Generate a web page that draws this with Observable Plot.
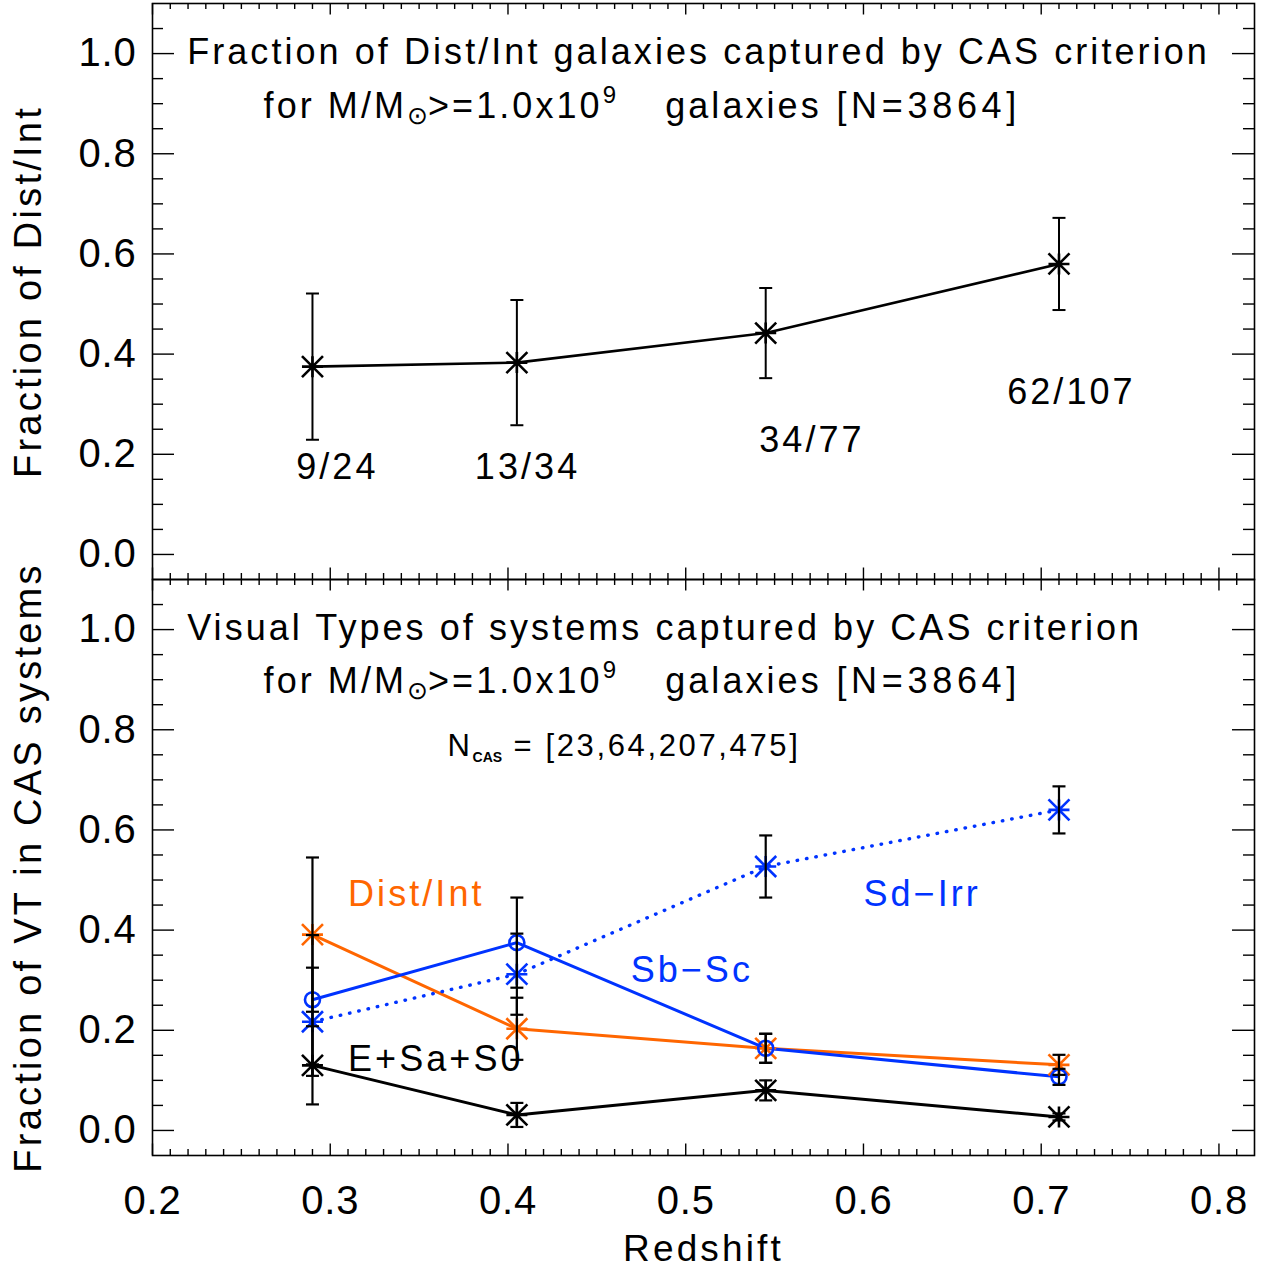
<!DOCTYPE html>
<html>
<head>
<meta charset="utf-8">
<script src="https://cdn.jsdelivr.net/npm/d3@7"></script>
<script src="https://cdn.jsdelivr.net/npm/@observablehq/plot@0.6"></script>
<style>
  html, body { margin: 0; padding: 0; background: #fff; }
  #chart svg { display: block; overflow: visible; }
  #chart text { letter-spacing: 0.085em; }
  #chart g[aria-label$="tick label"] text { letter-spacing: 0.02em; }
</style>
</head>
<body>
<div id="chart"></div>
<script>
// ---------------- data ----------------
const redshift = [0.29, 0.405, 0.545, 0.71];

// top panel: fraction of Dist/Int galaxies captured by CAS
const distIntCaptured = [9, 13, 34, 62];
const distIntTotal = [24, 34, 77, 107];
const distIntFrac = [0.375, 0.383, 0.442, 0.580];
const distIntErr = [0.146, 0.125, 0.090, 0.092];

// bottom panel: visual types of CAS-selected systems
const nCAS = [23, 64, 207, 475];
const typeNames = ["E+Sa+S0", "Dist/Int", "Sb-Sc", "Sd-Irr"];
const fracESaS0 = [0.130, 0.031, 0.080, 0.027];
const errESaS0 = [0.078, 0.024, 0.020, 0.007];
const fracDistInt = [0.391, 0.203, 0.164, 0.131];
const errDistInt = [0.154, 0.062, 0.029, 0.020];
const fracSbSc = [0.261, 0.375, 0.164, 0.107];
const errSbSc = [0.129, 0.090, 0.029, 0.016];
const fracSdIrr = [0.217, 0.312, 0.527, 0.640];
const errSdIrr = [0.108, 0.081, 0.062, 0.047];

const massCut = "1.0x10⁹";
const nTotal = 3864;

// ---------------- layout / style ----------------
const FONT = "'Liberation Sans', Arial, sans-serif";
const ORANGE = "#ff6600";
const BLUE = "#0033ff";
const W = 1266, ML = 152, MR = 12;
const PW = W - ML - MR;   // plot width
const PH = 576;           // plot height
const xDomain = [0.2, 0.82];
const yDomain = [-0.05, 1.1];
const majorX = d3.range(2, 9).map(d => d / 10);
const minorX = d3.range(21, 82).filter(d => d % 10).map(d => d / 100);
const majorY = d3.range(0, 6).map(d => d / 5);
const minorY = d3.range(1, 22).filter(d => d % 4).map(d => d / 20);

// 8-ray asterisk (IDL psym=2 style)
const asterisk = {
  draw(ctx, size) {
    const r = Math.sqrt(size / Math.PI);
    ctx.moveTo(-r, 0); ctx.lineTo(r, 0);
    ctx.moveTo(0, -r); ctx.lineTo(0, r);
    ctx.moveTo(-r, -r); ctx.lineTo(r, r);
    ctx.moveTo(-r, r); ctx.lineTo(r, -r);
  }
};
// horizontal error-bar cap
const hcap = {
  draw(ctx, size) {
    const r = Math.sqrt(size / Math.PI);
    ctx.moveTo(-r, 0); ctx.lineTo(r, 0);
  }
};

function frameMarks() {
  const s = {stroke: "black", strokeWidth: 1.4};
  return [
    Plot.tickX(majorX, {...s, x: d => d, insetTop: PH - 11.5}),
    Plot.tickX(majorX, {...s, x: d => d, insetBottom: PH - 11.5}),
    Plot.tickX(minorX, {...s, x: d => d, insetTop: PH - 6}),
    Plot.tickX(minorX, {...s, x: d => d, insetBottom: PH - 6}),
    Plot.tickY(majorY, {...s, y: d => d, insetRight: PW - 22}),
    Plot.tickY(majorY, {...s, y: d => d, insetLeft: PW - 22}),
    Plot.tickY(minorY, {...s, y: d => d, insetRight: PW - 11}),
    Plot.tickY(minorY, {...s, y: d => d, insetLeft: PW - 11}),
    Plot.axisY(majorY, {anchor: "left", tickSize: 0, tickPadding: 16, fontSize: 40,
      tickFormat: d3.format(".1f"), label: null}),
    Plot.frame({stroke: "black", strokeWidth: 1.6})
  ];
}

function errorMarks(rows, opts = {}) {
  const s = {stroke: "black", strokeWidth: opts.strokeWidth || 2.2};
  return [
    Plot.ruleX(rows, {...s, x: "z", y1: d => d.f - d.e, y2: d => d.f + d.e}),
    Plot.dot(rows, {...s, x: "z", y: d => d.f + d.e, symbol: hcap, r: 6.5, fill: "none"}),
    Plot.dot(rows, {...s, x: "z", y: d => d.f - d.e, symbol: hcap, r: 6.5, fill: "none"})
  ];
}

function base(extra) {
  return {
    width: W, marginLeft: ML, marginRight: MR,
    y: {domain: yDomain, label: null},
    style: {fontFamily: FONT, overflow: "visible", background: "transparent", color: "black"},
    ...extra
  };
}

function txt(s, o) {
  return Plot.text([s], {text: d => d, textAnchor: "start", lineAnchor: "middle", fontSize: 36, ...o});
}

function yLabel(s) {
  return Plot.text([s], {text: d => d, frameAnchor: "left", textAnchor: "middle", lineAnchor: "middle",
    rotate: -90, dx: -124, fontSize: 38});
}

// replace a plain text node with rich tspans (sub/superscripts)
function rich(svg, plain, parts) {
  svg.querySelectorAll("text").forEach(node => {
    if (node.textContent !== plain) return;
    node.textContent = "";
    for (const [s, attrs] of parts) {
      const t = document.createElementNS("http://www.w3.org/2000/svg", "tspan");
      t.textContent = s;
      for (const k in (attrs || {})) t.setAttribute(k, attrs[k]);
      node.appendChild(t);
    }
  });
}

const massLine = `for M/M⊙>=${massCut}  galaxies [N=${nTotal}]`;
const massParts = [
  ["for M/M"],
  ["⊙", {"font-size": "25px", dy: "6", "letter-spacing": "0"}],
  [">=1.0x10", {dy: "-6"}],
  ["9", {"font-size": "24px", dy: "-15"}],
  ["  galaxies", {dy: "15", dx: "20"}],
  [` [N=${nTotal}]`, {"letter-spacing": "0.13em"}]
];

// ---------------- top panel ----------------
const topRows = redshift.map((z, i) => ({
  z, f: distIntFrac[i], e: distIntErr[i],
  label: `${distIntCaptured[i]}/${distIntTotal[i]}`
}));
// annotation placement (data coordinates) for the count labels
const countLabelAt = [[0.304, 0.174], [0.411, 0.174], [0.571, 0.228], [0.717, 0.323]];

const topChart = Plot.plot(base({
  height: PH + 3, marginTop: 3, marginBottom: 0,
  x: {domain: xDomain, label: null, axis: null},
  marks: [
    Plot.line(topRows, {x: "z", y: "f", stroke: "black", strokeWidth: 2.6}),
    Plot.dot(topRows, {x: "z", y: "f", symbol: asterisk, r: 10.5, stroke: "black", strokeWidth: 2.6, fill: "none"}),
    ...errorMarks(topRows, {strokeWidth: 2}),
    Plot.text(topRows, {
      x: (d, i) => countLabelAt[i][0], y: (d, i) => countLabelAt[i][1],
      text: "label", fontSize: 36, textAnchor: "middle", lineAnchor: "middle"
    }),
    txt("Fraction of Dist/Int galaxies captured by CAS criterion", {x: 0.2195, y: 1.003}),
    txt(massLine, {x: 0.2625, y: 0.895}),
    yLabel("Fraction of Dist/Int"),
    ...frameMarks()
  ]
}));
rich(topChart, massLine, massParts);

// ---------------- bottom panel ----------------
const series = [
  {name: typeNames[0], frac: fracESaS0, err: errESaS0, color: "black", symbol: asterisk, r: 10.5, dash: null},
  {name: typeNames[1], frac: fracDistInt, err: errDistInt, color: ORANGE, symbol: asterisk, r: 10.5, dash: null},
  {name: typeNames[2], frac: fracSbSc, err: errSbSc, color: BLUE, symbol: "circle", r: 7.5, dash: null},
  {name: typeNames[3], frac: fracSdIrr, err: errSdIrr, color: BLUE, symbol: asterisk, r: 10.5, dash: "0.5,9", cap: "round"}
].map(s => ({...s, rows: redshift.map((z, i) => ({z, f: s.frac[i], e: s.err[i]}))}));

const nLine = `NCAS = [${nCAS.join(",")}]`;

const bottomChart = Plot.plot(base({
  height: 691, marginTop: 0, marginBottom: 691 - PH,
  x: {domain: xDomain, label: null},
  marks: [
    ...series.map(s => Plot.line(s.rows, {x: "z", y: "f", stroke: s.color, strokeWidth: s.dash ? 3.4 : 3,
      strokeDasharray: s.dash, strokeLinecap: s.cap || "butt"})),
    ...series.map(s => Plot.dot(s.rows, {x: "z", y: "f", symbol: s.symbol, r: s.r, stroke: s.color, strokeWidth: 2.6, fill: "none"})),
    ...series.flatMap(s => errorMarks(s.rows)),
    txt("Visual Types of systems captured by CAS criterion", {x: 0.2195, y: 1.003}),
    txt(massLine, {x: 0.2625, y: 0.897}),
    txt(nLine, {x: 0.366, y: 0.768, fontSize: 31}),
    txt("Dist/Int", {x: 0.310, y: 0.471, fill: ORANGE}),
    txt("Sb−Sc", {x: 0.469, y: 0.319, fill: BLUE}),
    txt("Sd−Irr", {x: 0.600, y: 0.471, fill: BLUE}),
    txt("E+Sa+S0", {x: 0.310, y: 0.142}),
    yLabel("Fraction of VT in CAS systems"),
    Plot.axisX(majorX, {anchor: "bottom", tickSize: 0, tickPadding: 30, fontSize: 40,
      tickFormat: d3.format(".1f"), label: null}),
    Plot.text(["Redshift"], {text: d => d, frameAnchor: "bottom", textAnchor: "middle", lineAnchor: "middle",
      dy: 94, fontSize: 37}),
    ...frameMarks()
  ]
}));
rich(bottomChart, massLine, massParts);
rich(bottomChart, nLine, [
  ["N"],
  ["CAS", {"font-size": "14px", "font-weight": "bold", dy: "6", "letter-spacing": "0"}],
  [` = [${nCAS.join(",")}]`, {dy: "-6"}]
]);

const chart = document.getElementById("chart");
chart.appendChild(topChart);
chart.appendChild(bottomChart);
</script>
</body>
</html>
